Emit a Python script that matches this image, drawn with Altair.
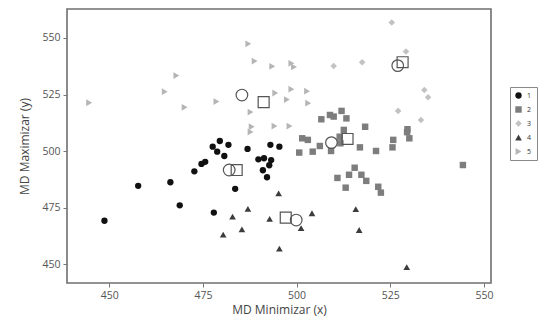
import altair as alt
import pandas as pd

groups = ["1", "2", "3", "4", "5"]
shapes = ["circle", "square", "diamond", "triangle-up", "triangle-right"]
colors = ["#111111", "#7d7d7d", "#c2c2c2", "#3c3c3c", "#b5b5b5"]
sizes = [40, 46, 44, 50, 48]

g1_x = [479.5, 481.8, 477.6, 478.8, 480.7, 486.9, 493.0, 495.4, 489.8, 491.3, 493.2, 492.7,
        491.0, 492.1, 475.6, 474.6, 472.7, 466.3, 457.7, 468.8, 448.7, 477.9, 483.6]
g1_y = [504.5, 502.8, 502.0, 499.8, 497.9, 501.0, 502.8, 502.0, 496.4, 496.9, 496.1, 493.8,
        491.6, 488.5, 495.3, 494.4, 491.1, 486.3, 484.7, 476.1, 469.3, 472.9, 483.4]

g2_x = [500.7, 504.3, 506.2, 509.2, 516.9, 521.2, 525.6, 544.4, 515.5, 514.0, 510.9, 517.3,
        518.6, 513.1, 521.8, 522.5, 506.6, 508.9, 509.9, 512.0, 513.3, 518.3, 529.6, 529.5,
        512.6, 501.5, 503.0, 511.5, 511.7, 525.8, 530.1]
g2_y = [499.4, 499.8, 502.3, 500.1, 501.7, 500.1, 501.7, 493.9, 492.7, 489.6, 488.2, 489.6,
        486.9, 483.9, 484.3, 481.7, 514.1, 516.0, 515.3, 517.8, 514.5, 510.8, 509.7, 508.4,
        509.4, 505.7, 505.0, 506.4, 503.5, 505.0, 505.7]

g3_x = [525.4, 529.2, 509.9, 517.5, 534.1, 535.1, 527.1, 533.2]
g3_y = [556.8, 544.0, 537.6, 539.3, 527.0, 523.8, 517.8, 513.8]

g4_x = [495.2, 487.0, 482.9, 492.8, 485.4, 480.4, 495.4, 504.1, 515.8, 501.2, 516.7, 529.4]
g4_y = [481.4, 474.5, 471.1, 470.1, 465.5, 463.2, 457.0, 472.6, 474.4, 466.0, 465.2, 448.8]

g5_x = [444.6, 464.8, 467.9, 470.1, 478.6, 487.1, 488.8, 493.5, 498.6, 499.3, 494.3, 498.6,
        502.8, 497.4, 503.1, 487.7, 488.0, 487.7, 494.1, 498.1]
g5_y = [521.4, 526.3, 533.4, 519.4, 521.9, 547.4, 539.8, 537.5, 538.8, 537.2, 525.7, 527.4,
        526.5, 522.8, 521.2, 517.3, 510.8, 508.5, 511.1, 511.1]

cent_circle_x = [485.4, 527.0, 509.3, 482.0, 499.9]
cent_circle_y = [524.8, 537.8, 503.8, 491.7, 469.6]
cent_square_x = [491.2, 528.3, 513.6, 484.0, 497.1]
cent_square_y = [521.7, 539.3, 505.4, 491.7, 470.7]

x_ticks = [450, 475, 500, 525, 550]
y_ticks = [450, 475, 500, 525, 550]

rows = []
for g, xs, ys in zip(groups, [g1_x, g2_x, g3_x, g4_x, g5_x], [g1_y, g2_y, g3_y, g4_y, g5_y]):
    for xv, yv in zip(xs, ys):
        rows.append({"x": xv, "y": yv, "grupo": g})
df = pd.DataFrame(rows)
dfc = pd.DataFrame({"x": cent_circle_x, "y": cent_circle_y})
dfs = pd.DataFrame({"x": cent_square_x, "y": cent_square_y})

xscale = alt.Scale(domain=[438.7, 551.9], nice=False, zero=False)
yscale = alt.Scale(domain=[441.8, 562.8], nice=False, zero=False)

xenc = alt.X("x:Q", scale=xscale,
             axis=alt.Axis(values=x_ticks, title="MD Minimizar (x)", titlePadding=4))
yenc = alt.Y("y:Q", scale=yscale,
             axis=alt.Axis(values=y_ticks, title="MD Maximizar (y)", titlePadding=10))

legend = alt.Legend(title=None, orient="none", legendX=443, legendY=78,
                    strokeColor="#888888", padding=5, labelFontSize=7,
                    labelColor="#333333", symbolSize=30, rowPadding=6,
                    labelOffset=5, symbolStrokeWidth=0)

points = alt.Chart(df).mark_point(filled=True, opacity=1).encode(
    x=xenc,
    y=yenc,
    shape=alt.Shape("grupo:N", scale=alt.Scale(domain=groups, range=shapes), legend=legend),
    color=alt.Color("grupo:N", scale=alt.Scale(domain=groups, range=colors), legend=legend),
    size=alt.Size("grupo:N", scale=alt.Scale(domain=groups, range=sizes), legend=None),
)

circles = alt.Chart(dfc).mark_point(shape="circle", filled=False, size=135,
                                    stroke="#555555", strokeWidth=1.2, opacity=1).encode(
    x="x:Q", y="y:Q")
squares = alt.Chart(dfs).mark_point(shape="square", filled=False, size=120,
                                    stroke="#555555", strokeWidth=1.2, opacity=1).encode(
    x="x:Q", y="y:Q")

chart = alt.layer(points, circles, squares).properties(
    width=424, height=274,
    padding={"left": 59, "top": 1, "right": 50, "bottom": 40},
    autosize=alt.AutoSizeParams(type="none"),
).configure_view(
    stroke="#6f6f6f", strokeWidth=1.6
).configure_axis(
    domain=False, grid=False, tickColor="#777777", tickSize=4, labelPadding=3,
    labelFont="Open Sans", labelFontSize=10.5, labelColor="#555555",
    titleFont="Open Sans", titleFontSize=12, titleFontWeight="normal", titleColor="#444444",
).configure_legend(
    labelFont="Open Sans"
)

chart.save("out.html", embed_options={"renderer": "svg", "actions": False})
